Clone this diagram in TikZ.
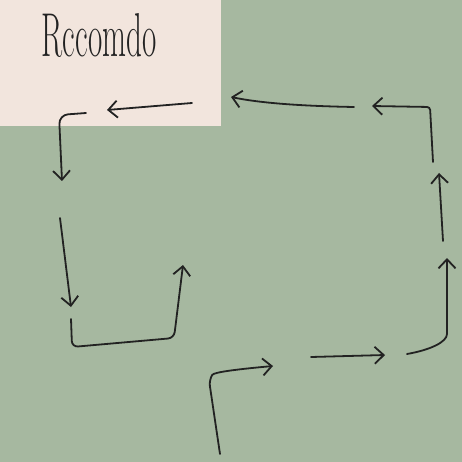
\documentclass[tikz,border=0pt]{standalone}
\usetikzlibrary{arrows.meta}
\definecolor{bggreen}{HTML}{A6B8A0}
\definecolor{paper}{HTML}{F2E5DD}
\definecolor{ink}{HTML}{222222}
\begin{document}
\begin{tikzpicture}[x=1pt,y=-1pt,
  stroke/.style={draw=ink,line width=1.8pt,line cap=round,line join=round,rounded corners=6pt,
    -{Straight Barb[length=9pt,width=17pt,line width=1.8pt]}},
  title/.style={font=\fontsize{62}{62}\selectfont,text=ink,inner sep=0pt,anchor=base}]
\useasboundingbox (0,0) rectangle (462,462);
\fill[bggreen] (0,0) rectangle (462,462);
\fill[paper] (0,0) rectangle (221,126);
\node[title] (t) at (99,57) {\scalebox{0.5}[1]{Rccomdo}};
% coordinates
\coordinate (a1s) at (192,103); \coordinate (a1e) at (107,110);
\coordinate (a2s) at (86,113); \coordinate (a2c) at (59,115); \coordinate (a2e) at (62,181);
\coordinate (a3s) at (60,218); \coordinate (a3e) at (71,307);
\coordinate (a4s) at (71,319); \coordinate (a4c) at (72,347); \coordinate (a4d) at (174,338); \coordinate (a4e) at (183,265);
\coordinate (a5s) at (354,107); \coordinate (a5e) at (231,97);
\coordinate (a6s) at (433,162); \coordinate (a6c) at (430,107); \coordinate (a6e) at (372,106);
\coordinate (a7s) at (443,241); \coordinate (a7e) at (439,173);
\coordinate (a8s) at (407,354); \coordinate (a8e) at (447,258);
\coordinate (a9s) at (311,357); \coordinate (a9e) at (385,355);
\coordinate (a10s) at (220,454); \coordinate (a10c) at (209,380); \coordinate (a10e) at (273,366);
% connectors
\draw[stroke] (a1s) -- (a1e);
\draw[stroke,rounded corners=9pt] (a2s) -- (a2c) -- (a2e);
\draw[stroke] (a3s) -- (a3e);
\draw[stroke] (a4s) -- (a4c) -- (a4d) -- (a4e);
\draw[stroke] (a5s) .. controls (300,106) and (260,103) .. (a5e);
\draw[stroke,rounded corners=3pt] (a6s) -- (a6c) -- (a6e);
\draw[stroke] (a7s) -- (a7e);
\draw[stroke] (a8s) .. controls (430,350) and (447,342) .. (447,328) -- (a8e);
\draw[stroke] (a9s) -- (a9e);
\draw[stroke] (a10s) -- (a10c) .. controls (214,372) and (240,369) .. (a10e);
\end{tikzpicture}
\end{document}
